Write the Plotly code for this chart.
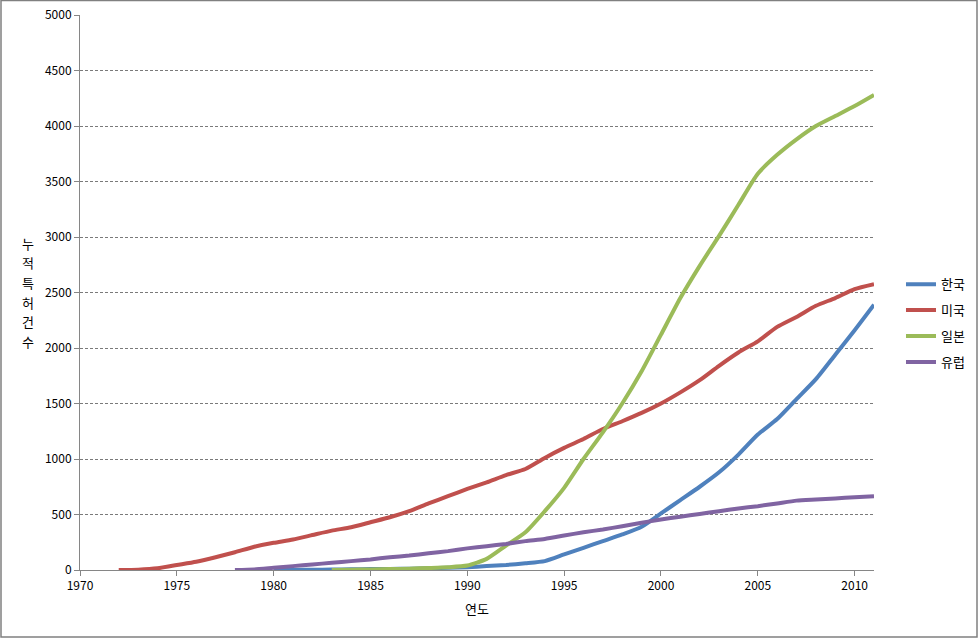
import plotly.graph_objects as go

W, H = 978, 639
L, R, T, B = 80, 104, 15, 69

# Data (cumulative patent counts by year)
years_kr = list(range(1980, 2012))
korea = [0, 1, 2, 4, 6, 8, 10, 12, 15, 20, 25, 35, 45, 60, 80, 140, 200, 260, 320,
         390, 510, 630, 750, 880, 1040, 1220, 1360, 1540, 1720, 1940, 2160, 2390]

years_us = list(range(1972, 2012))
usa = [0, 3, 15, 45, 75, 115, 160, 210, 245, 275, 315, 355, 385, 430, 475, 530, 600,
       665, 730, 790, 855, 910, 1010, 1100, 1180, 1270, 1340, 1415, 1500, 1600, 1710,
       1840, 1960, 2060, 2190, 2280, 2380, 2450, 2530, 2575]

years_jp = list(range(1983, 2012))
japan = [0, 2, 5, 8, 12, 18, 25, 40, 100, 220, 340, 530, 740, 1000, 1240, 1500, 1790,
         2120, 2450, 2740, 3010, 3290, 3570, 3740, 3880, 4000, 4090, 4180, 4280]

years_eu = list(range(1978, 2012))
europe = [0, 5, 20, 35, 50, 65, 80, 95, 115, 130, 150, 170, 195, 215, 235, 260, 280,
          310, 340, 365, 395, 425, 455, 480, 505, 530, 555, 575, 600, 625, 635, 645,
          655, 665]

names = ["한국", "미국", "일본", "유럽"]
colors = ["#4F81BD", "#C0504D", "#9BBB59", "#8064A2"]
xs = [years_kr, years_us, years_jp, years_eu]
ys = [korea, usa, japan, europe]

x_ticks = [1970, 1975, 1980, 1985, 1990, 1995, 2000, 2005, 2010]
y_ticks = list(range(0, 5001, 500))
y_title_chars = ["누", "적", "특", "허", "건", "수"]
x_title = "연도"

FONT = "Noto Sans CJK KR, DejaVu Sans, sans-serif"

fig = go.Figure()
for n, c, x, y in zip(names, colors, xs, ys):
    fig.add_trace(go.Scatter(
        x=x, y=y, name=n, mode="lines",
        line=dict(color=c, width=4, shape="spline", smoothing=0.6),
        legendgroup=n,
    ))

fig.update_layout(
    width=W, height=H,
    margin=dict(l=L, r=R, t=T, b=B, autoexpand=False),
    paper_bgcolor="white", plot_bgcolor="white",
    font=dict(family=FONT, size=12, color="black"),
    showlegend=True,
    legend=dict(
        x=1.034, y=0.4446, xanchor="left", yanchor="middle",
        font=dict(family=FONT, size=13, color="black"),
        tracegroupgap=6, itemwidth=30,
        bgcolor="rgba(0,0,0,0)",
    ),
    xaxis=dict(
        range=[1970, 2011], tickvals=x_ticks, ticktext=[str(t) for t in x_ticks],
        showgrid=False, zeroline=False, automargin=False,
        showline=True, linecolor="#868686", linewidth=1,
        ticks="outside", ticklen=5, tickcolor="#868686",
        tickfont=dict(family=FONT, size=12),
        title=dict(text=x_title, font=dict(family=FONT, size=13), standoff=12),
    ),
    yaxis=dict(
        range=[0, 5000], tickvals=y_ticks, automargin=False,
        showgrid=True, gridcolor="#7a7a7a", griddash="3px,2px", gridwidth=1,
        zeroline=False,
        showline=True, linecolor="#868686", linewidth=1,
        ticks="outside", ticklen=5, tickcolor="#868686",
        tickfont=dict(family=FONT, size=12),
    ),
    shapes=[dict(
        type="rect", xref="paper", yref="paper",
        x0=(1 - L) / (W - L - R), x1=(977 - L) / (W - L - R),
        y0=(H - B - 637) / (H - T - B), y1=(H - B - 0.5) / (H - T - B),
        line=dict(color="#808080", width=1.5), fillcolor="rgba(0,0,0,0)",
        layer="below",
    )],
)

ph = H - T - B
for i, ch in enumerate(y_title_chars):
    ypix = 243 + i * 19.7
    fig.add_annotation(
        text=ch, xref="paper", yref="paper",
        x=(28 - L) / (W - L - R), y=(H - B - ypix) / ph,
        showarrow=False, xanchor="center", yanchor="middle",
        font=dict(family=FONT, size=13, color="black"),
    )

fig.write_html("out.html")
